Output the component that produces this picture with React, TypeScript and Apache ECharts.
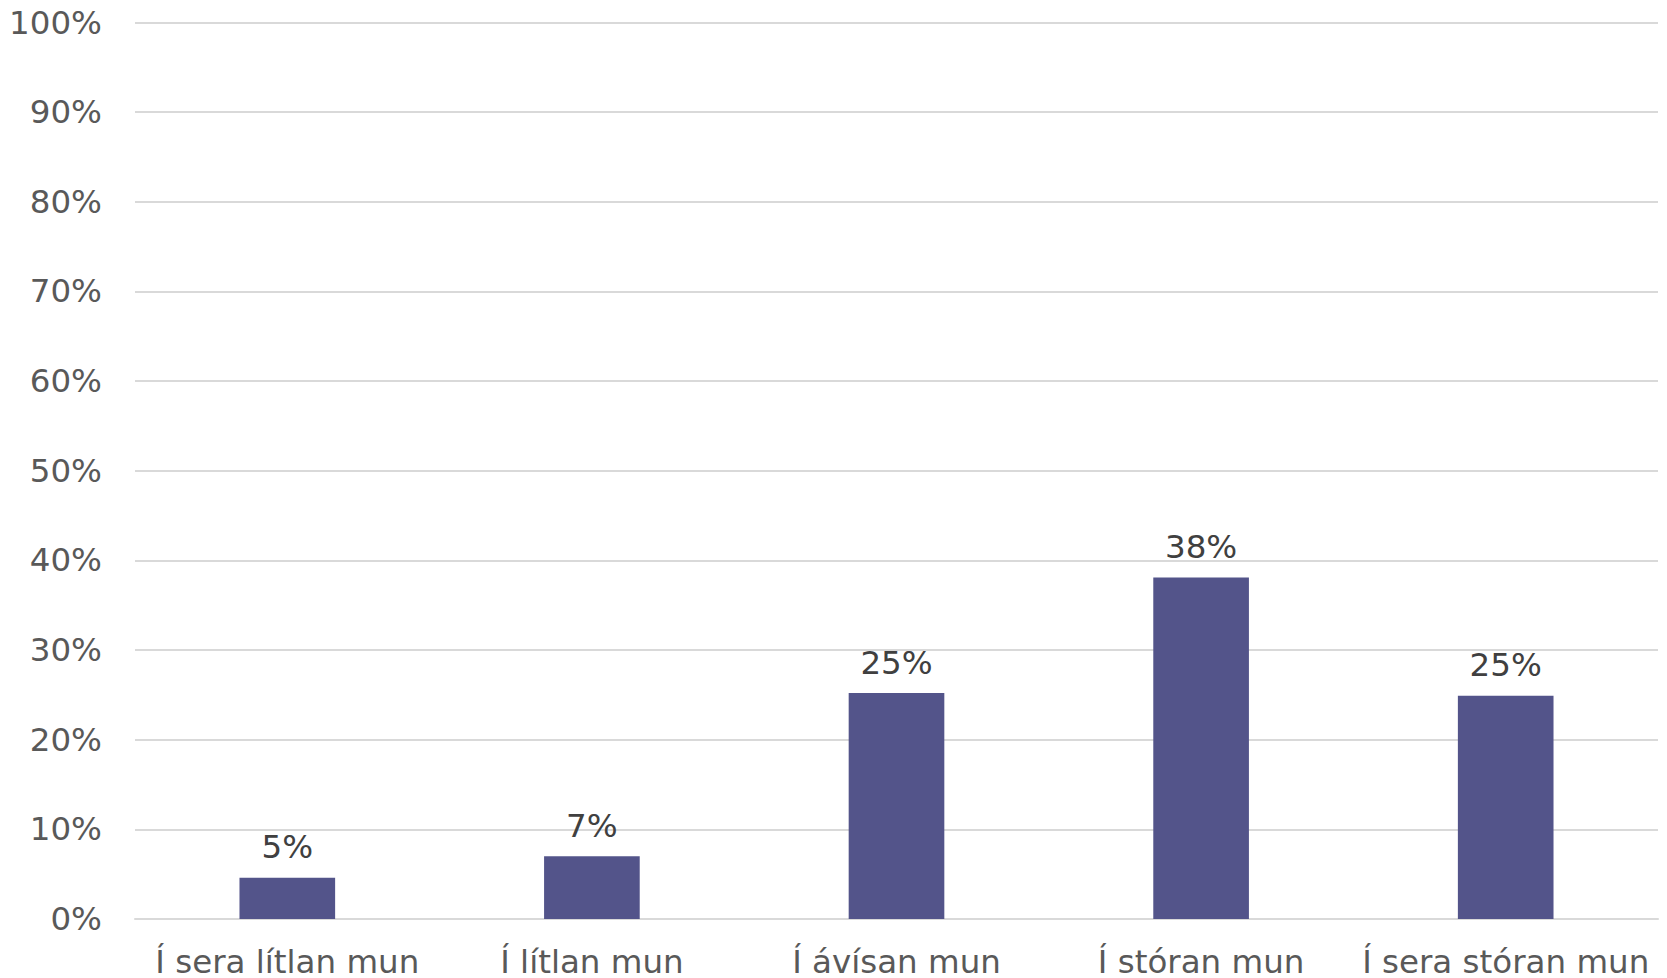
import React, { useEffect, useRef } from "react";
import * as echarts from "echarts";

const categories = ["Í sera lítlan mun", "Í lítlan mun", "Í ávísan mun", "Í stóran mun", "Í sera stóran mun"];
const values = [4.6, 7.0, 25.2, 38.1, 24.9];

export default function App() {
  const ref = useRef<HTMLDivElement>(null);
  useEffect(() => {
    if (!ref.current) return;
    const chart = echarts.init(ref.current, undefined, { renderer: "svg" });
    const font = "'DejaVu Sans', Verdana, sans-serif";
    chart.setOption({
      animation: false,
      grid: { left: 135, right: 9, top: 22.5, bottom: 58, containLabel: false },
      xAxis: {
        type: "category",
        data: categories,
        axisLine: { show: true, lineStyle: { color: "#d9d9d9", width: 2 } },
        axisTick: { show: false },
        axisLabel: { color: "#595959", fontSize: 32.5, fontFamily: font, margin: 26, interval: 0 },
      },
      yAxis: {
        type: "value",
        min: 0,
        max: 100,
        interval: 10,
        axisLine: { show: false },
        axisTick: { show: false },
        splitLine: { lineStyle: { color: "#d9d9d9", width: 2 } },
        axisLabel: {
          color: "#595959",
          fontSize: 32.5,
          fontFamily: font,
          margin: 33,
          formatter: (v: number) => v + "%",
        },
      },
      series: [
        {
          type: "bar",
          data: values,
          barWidth: "31.4%",
          itemStyle: { color: "#53548A" },
          label: {
            show: true,
            position: "top",
            distance: 14,
            color: "#404040",
            fontSize: 32.5,
            fontFamily: font,
            formatter: (p: any) => Math.round(p.value) + "%",
          },
        },
      ],
    });
    return () => chart.dispose();
  }, []);
  return (
    <div
      ref={ref}
      style={{ position: "absolute", left: 0, top: 0, width: 1667, height: 978, background: "#fff" }}
    />
  );
}
